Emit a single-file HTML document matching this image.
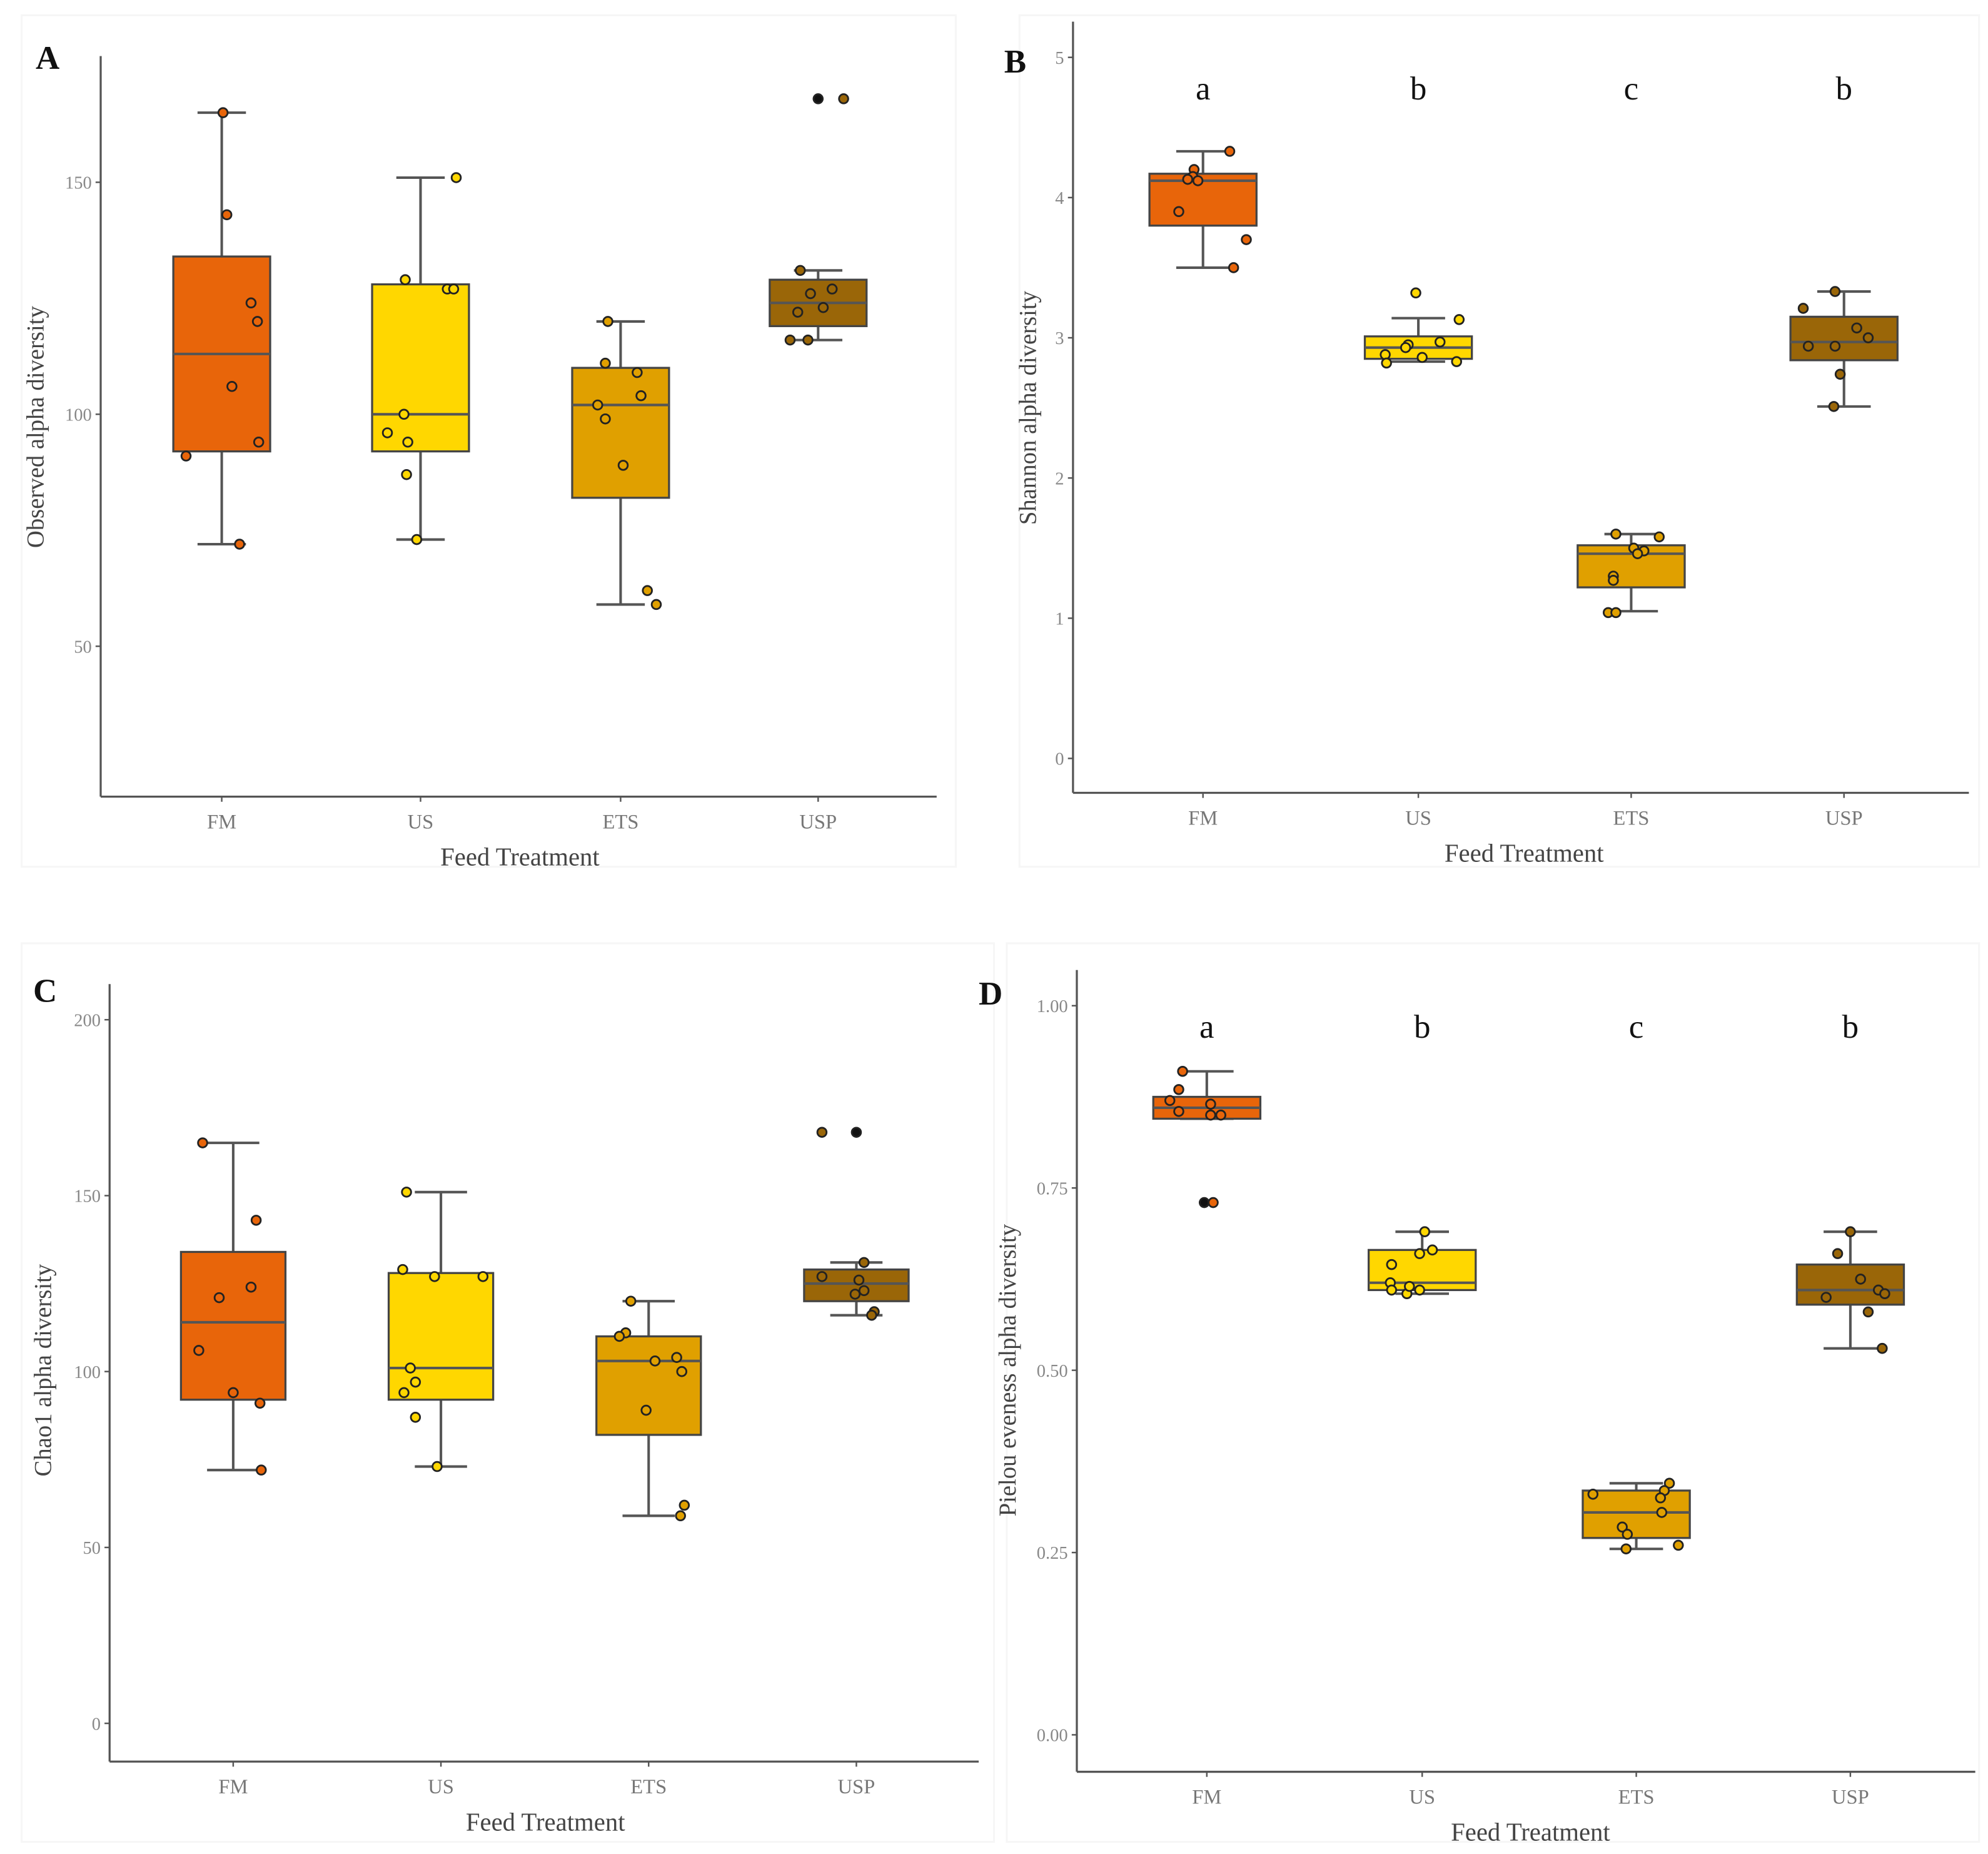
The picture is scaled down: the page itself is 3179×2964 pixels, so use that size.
<!DOCTYPE html>
<html><head><meta charset="utf-8"><style>
html,body{margin:0;padding:0;background:#fff;}
svg{display:block;}
text{font-family:"Liberation Serif",serif;}
</style></head><body>
<svg id="fig" width="3179" height="2964" viewBox="0 0 1560 1454.5" xmlns="http://www.w3.org/2000/svg">
<rect x="0" y="0" width="1560" height="1455" fill="#fff"/>
</svg>
<script>
const categories = ["FM","US","ETS","USP"];
const colors = ["#E8650A","#FFD700","#E0A000","#9A6608"];

// Panel A - Observed
const boxA = [[72,92,113,134,165],[73,92,100,128,151],[59,82,102,110,120],[116,119,124,129,131]];
const ptsA = [[165,143,124,120,106,94,91,72],[151,129,127,127,100,96,94,87,73],[120,111,109,104,102,99,89,62,59],[168,168,131,126,127,122,123,116,116]];
const jitA = [[1,4,23,28,8,29,-28,14],[28,-12,21,26,-13,-26,-10,-11,-3],[-10,-12,13,16,-18,-12,2,21,28],[0,20,-14,-6,11,-16,4,-22,-8]];
const ticksA = [50,100,150];
// Panel B - Shannon
const boxB = [[3.5,3.8,4.12,4.17,4.33],[2.83,2.85,2.93,3.01,3.14],[1.05,1.22,1.46,1.52,1.6],[2.51,2.84,2.97,3.15,3.33]];
const ptsB = [[4.33,4.2,4.15,4.13,4.12,3.9,3.7,3.5],[3.32,3.13,2.97,2.95,2.93,2.88,2.86,2.82,2.83],[1.6,1.58,1.5,1.48,1.46,1.3,1.27,1.04,1.04],[3.33,3.21,3.07,3.0,2.94,2.94,2.74,2.51]];
const jitB = [[21,-7,-8,-12,-4,-19,34,24],[-2,32,17,-8,-10,-26,3,-25,30],[-12,22,2,10,5,-14,-14,-18,-12],[-7,-32,10,19,-28,-7,-3,-8]];
const ticksB = [0,1,2,3,4,5];
const lettersB = ["a","b","c","b"];
// Panel C - Chao1
const boxC = [[72,92,114,134,165],[73,92,101,128,151],[59,82,103,110,120],[116,120,125,129,131]];
const ptsC = [[165,143,124,121,106,94,91,72],[151,129,127,127,101,97,94,87,73],[120,111,110,104,103,100,89,62,59],[168,168,131,127,126,123,122,117,116]];
const jitC = [[-24,18,14,-11,-27,0,21,22],[-27,-30,-5,33,-24,-20,-29,-20,-3],[-14,-18,-23,22,5,26,-2,28,25],[-27,0,6,-27,2,6,-1,14,12]];
const ticksC = [0,50,100,150,200];
// Panel D - Pielou
const boxD = [[0.845,0.845,0.86,0.875,0.91],[0.605,0.61,0.62,0.665,0.69],[0.255,0.27,0.305,0.335,0.345],[0.53,0.59,0.61,0.645,0.69]];
const ptsD = [[0.91,0.885,0.87,0.865,0.855,0.85,0.85,0.73,0.73],[0.69,0.665,0.66,0.645,0.62,0.61,0.605,0.61,0.615],[0.345,0.335,0.33,0.325,0.305,0.285,0.275,0.255,0.26],[0.69,0.66,0.625,0.61,0.605,0.6,0.58,0.53]];
const jitD = [[-19,-22,-29,3,-22,3,11,-2,5],[2,8,-2,-24,-25,-24,-12,-2,-10],[26,22,-34,19,20,-11,-7,-8,33],[0,-10,8,22,27,-19,14,25]];
const ticksD = [0,0.25,0.5,0.75,1];
const ticksDLabels = ["0.00","0.25","0.50","0.75","1.00"];
const lettersD = ["a","b","c","b"];

const NS="http://www.w3.org/2000/svg";
const svg=document.getElementById('fig');
function mk(tag,attrs,parent){const e=document.createElementNS(NS,tag);for(const k in attrs)e.setAttribute(k,attrs[k]);(parent||svg).appendChild(e);return e;}

function panel(cfg){
  const g=mk('g',{});
  
  
  const bg=mk('rect',{x:cfg.bg[0],y:cfg.bg[1],width:cfg.bg[2],height:cfg.bg[3],fill:'#fff',stroke:'#f6f6f6','stroke-width':1.5},g);
  
  
  const y=v=>cfg.y0+(v-cfg.v0)*cfg.k;
  const ya=mk('line',{x1:cfg.ax,y1:cfg.top,x2:cfg.ax,y2:cfg.ay,stroke:'#555','stroke-width':1.6},g);
  
  
  const xa=mk('line',{x1:cfg.ax,y1:cfg.ay,x2:cfg.right,y2:cfg.ay,stroke:'#555','stroke-width':1.6},g);
  
  
  cfg.ticks.forEach((t,i)=>{
    const yy=y(t);
    mk('line',{x1:cfg.ax-4,y1:yy,x2:cfg.ax,y2:yy,stroke:'#555','stroke-width':1.2},g);
    const tl=mk('text',{x:cfg.ax-7,y:yy+5,'text-anchor':'end','font-size':14,fill:'#888'},g);
    tl.textContent=cfg.tickLabels?cfg.tickLabels[i]:String(t);
    
    
  });
  categories.forEach((c,i)=>{
    const cx=cfg.cx[i];
    mk('line',{x1:cx,y1:cfg.ay,x2:cx,y2:cfg.ay+4,stroke:'#555','stroke-width':1.2},g);
    const tl=mk('text',{x:cx,y:cfg.ay+25,'text-anchor':'middle','font-size':16,fill:'#777'},g);
    tl.textContent=c;
    
    
    const b=cfg.box[i], hw=cfg.bw/2;
    const wl=mk('line',{x1:cx,y1:y(b[4]),x2:cx,y2:y(b[0]),stroke:'#555','stroke-width':2},g);
    
    
    mk('line',{x1:cx-hw/2,y1:y(b[4]),x2:cx+hw/2,y2:y(b[4]),stroke:'#555','stroke-width':2},g);
    mk('line',{x1:cx-hw/2,y1:y(b[0]),x2:cx+hw/2,y2:y(b[0]),stroke:'#555','stroke-width':2},g);
    const r=mk('rect',{x:cx-hw,y:y(b[3]),width:cfg.bw,height:Math.max(1,y(b[1])-y(b[3])),fill:colors[i],stroke:'#444','stroke-width':1.6},g);
    
    
    const md=mk('line',{x1:cx-hw,y1:y(b[2]),x2:cx+hw,y2:y(b[2]),stroke:'#555','stroke-width':2},g);
    
    
    cfg.pts[i].forEach((v,j)=>{
      const black=cfg.black&&cfg.black[0]===i&&cfg.black[1]===j;
      const p=mk('circle',{cx:cx+cfg.jit[i][j],cy:y(v),r:3.6,fill:black?'#111':colors[i],stroke:'#222','stroke-width':1.4},g);
      
      
    });
    if(cfg.letters){
      const lt=mk('text',{x:cx,y:cfg.letterY,'text-anchor':'middle','font-size':26,fill:'#111'},g);
      lt.textContent=cfg.letters[i];
      
      
    }
  });
  const xt=mk('text',{x:cfg.xtitleX,y:cfg.ay+54,'text-anchor':'middle','font-size':20,fill:'#444'},g);
  xt.textContent='Feed Treatment';
  
  
  const my=(cfg.top+cfg.ay)/2;
  const yt=mk('text',{x:0,y:0,'text-anchor':'middle','font-size':19,fill:'#444',transform:`translate(${cfg.ytitleX},${cfg.ytitleY||my}) rotate(-90)`},g);
  yt.textContent=cfg.ytitle;
  
  
  const pl=mk('text',{x:cfg.labelPos[0],y:cfg.labelPos[1],'font-size':26,'font-weight':'bold',fill:'#111'},g);
  pl.textContent=cfg.id;
  
  
}

panel({id:'A',bg:[17,12,733,668],ax:79,ay:625,top:44,right:735,y0:325,v0:100,k:-182/50,ticks:ticksA,
  cx:[174,330,487,642],bw:76,box:boxA,pts:ptsA,jit:jitA,black:[3,0],xtitleX:408,ytitleX:34,ytitle:'Observed alpha diversity',ytitleY:335,labelPos:[28,54]});
panel({id:'B',bg:[800,12,753,668],ax:842,ay:622,top:17,right:1545,y0:595,v0:0,k:-110,ticks:ticksB,
  cx:[944,1113,1280,1447],bw:84,box:boxB,pts:ptsB,jit:jitB,letters:lettersB,letterY:78,xtitleX:1196,ytitleX:813,ytitle:'Shannon alpha diversity',ytitleY:320,labelPos:[788,57]});
panel({id:'C',bg:[17,740,763,705],ax:86,ay:1382,top:772,right:768,y0:1076,v0:100,k:-138/50,ticks:ticksC,
  cx:[183,346,509,672],bw:82,box:boxC,pts:ptsC,jit:jitC,black:[3,1],xtitleX:428,ytitleX:40,ytitle:'Chao1 alpha diversity',ytitleY:1075,labelPos:[26,786]});
panel({id:'D',bg:[790,740,763,705],ax:845,ay:1390,top:761,right:1550,y0:1361,v0:0,k:-572,ticks:ticksD,tickLabels:ticksDLabels,
  cx:[947,1116,1284,1452],bw:84,box:boxD,pts:ptsD,jit:jitD,black:[0,7],letters:lettersD,letterY:814,xtitleX:1201,ytitleX:797,ytitle:'Pielou eveness alpha diversity',ytitleY:1075,labelPos:[768,788]});
</script>
</body></html>
